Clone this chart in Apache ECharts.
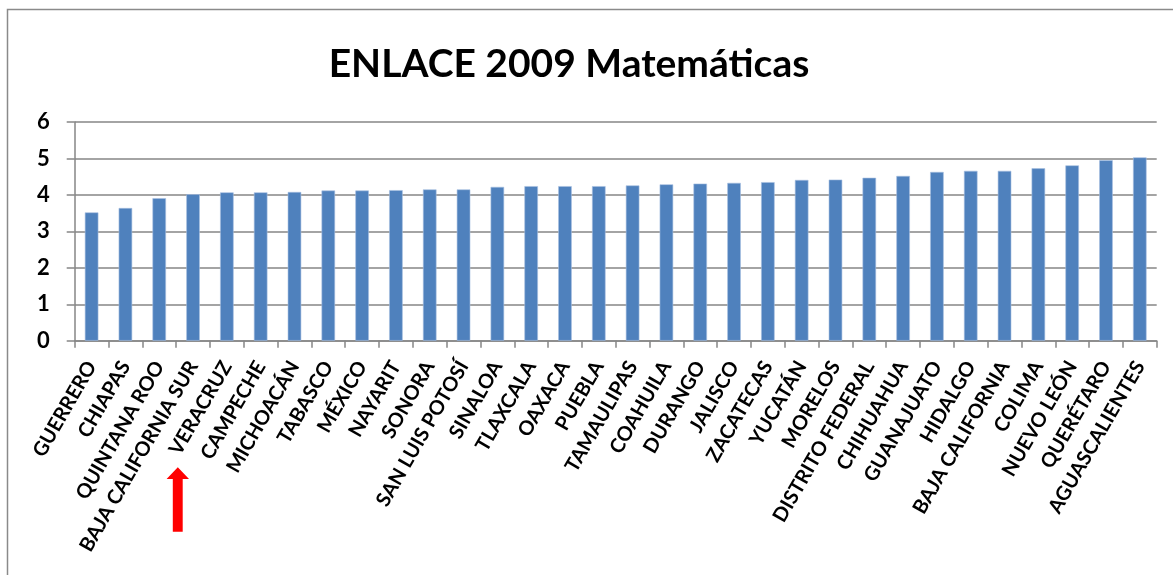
<!DOCTYPE html>
<html>
<head>
<meta charset="utf-8">
<script src="https://cdn.jsdelivr.net/npm/echarts@6/dist/echarts.min.js"></script>
<style>
html,body{margin:0;padding:0;background:#fff;}
#chart{width:1173px;height:575px;}
</style>
</head>
<body>
<div id="chart"></div>
<script>
const titleText = 'ENLACE 2009 Matemáticas';
const states = ['GUERRERO','CHIAPAS','QUINTANA ROO','BAJA CALIFORNIA SUR','VERACRUZ','CAMPECHE','MICHOACÁN','TABASCO','MÉXICO','NAYARIT','SONORA','SAN LUIS POTOSÍ','SINALOA','TLAXCALA','OAXACA','PUEBLA','TAMAULIPAS','COAHUILA','DURANGO','JALISCO','ZACATECAS','YUCATÁN','MORELOS','DISTRITO FEDERAL','CHIHUAHUA','GUANAJUATO','HIDALGO','BAJA CALIFORNIA','COLIMA','NUEVO LEÓN','QUERÉTARO','AGUASCALIENTES'];
const scores = [3.52,3.64,3.91,4.02,4.07,4.07,4.08,4.12,4.12,4.13,4.15,4.15,4.22,4.24,4.24,4.24,4.26,4.29,4.31,4.33,4.35,4.41,4.42,4.47,4.52,4.63,4.66,4.66,4.73,4.81,4.95,5.03];
const yMin = 0, yMax = 6, yStep = 1;

const FONT = 'Lato';
const chart = echarts.init(document.getElementById('chart'), null, {renderer:'canvas'});
chart.setOption({
  animation: false,
  backgroundColor: '#ffffff',
  grid: {left: 74.7, right: 16.3, top: 122, bottom: 234.3, containLabel: false},
  xAxis: {
    type: 'category',
    data: states,
    boundaryGap: true,
    axisLine: {show: true, lineStyle: {color: '#868686', width: 1.5}},
    axisTick: {show: true, alignWithLabel: false, length: 7, lineStyle: {color: '#868686', width: 1.5}},
    axisLabel: {interval: 0, rotate: 60, margin: 22, color: '#000', fontFamily: FONT, fontWeight: 'bold', fontSize: 20}
  },
  yAxis: {
    type: 'value',
    min: yMin, max: yMax, interval: yStep,
    axisLine: {show: true, lineStyle: {color: '#868686', width: 1.5}},
    axisTick: {show: true, length: 8, lineStyle: {color: '#868686', width: 1.5}},
    splitLine: {show: true, lineStyle: {color: '#868686', width: 1.5}},
    axisLabel: {margin: 25, color: '#000', fontFamily: FONT, fontWeight: 'bold', fontSize: 22}
  },
  series: [{
    type: 'bar',
    data: scores,
    barWidth: '40%',
    itemStyle: {color: '#4F81BD', borderColor: '#A7C0E0', borderWidth: 0.6}
  }],
  graphic: [
    {type: 'rect', silent: true, shape: {x: 7.5, y: 9.5, width: 1200, height: 600}, style: {fill: 'none', stroke: '#8a8a8a', lineWidth: 1.5}},
    {type: 'text', silent: true, x: 569, y: 64, style: {text: titleText, fill: '#000', font: 'bold 39px Lato', textAlign: 'center', textVerticalAlign: 'middle'}},
    {type: 'polygon', silent: true, shape: {points: [[177.8,467.3],[189,479],[182.7,479],[182.7,531.7],[172.8,531.7],[172.8,479],[166.6,479]]}, style: {fill: '#FF0000'}}
  ]
});
</script>
</body>
</html>
